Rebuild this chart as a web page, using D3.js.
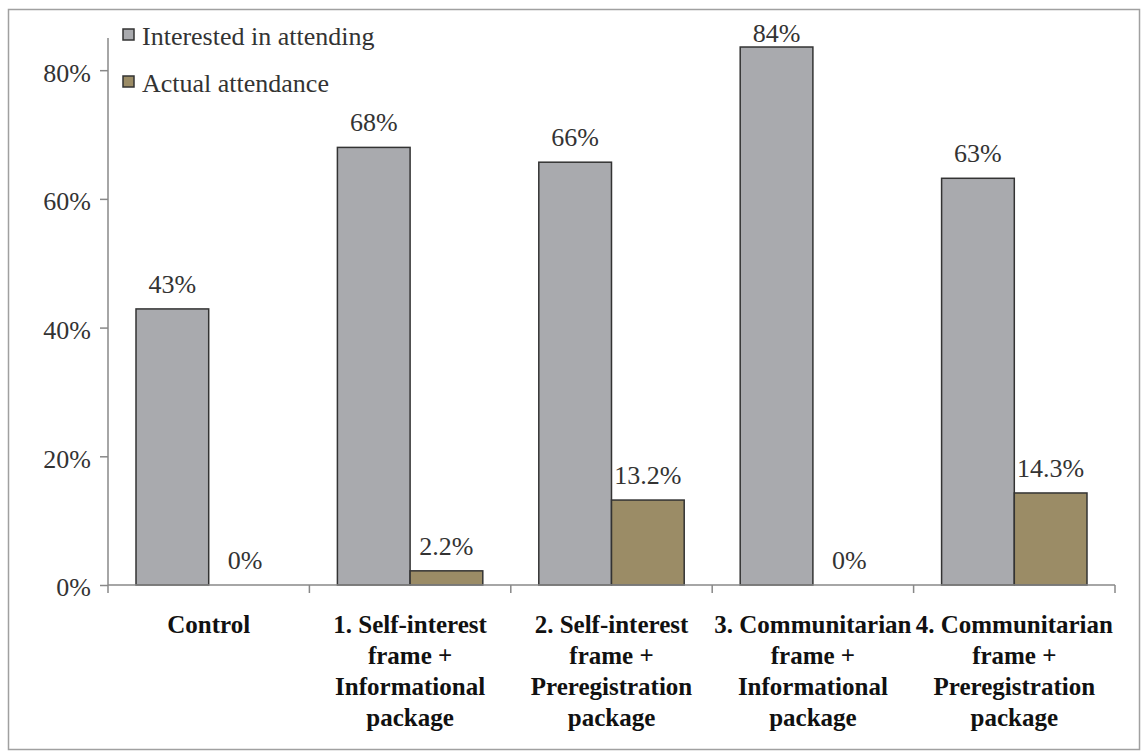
<!DOCTYPE html>
<html><head><meta charset="utf-8">
<script src="https://cdn.jsdelivr.net/npm/d3@7"></script>
</head><body style="margin:0">
<script>
const categories = [
  ["Control"],
  ["1. Self-interest", "frame +", "Informational", "package"],
  ["2. Self-interest", "frame +", "Preregistration", "package"],
  ["3. Communitarian", "frame +", "Informational", "package"],
  ["4. Communitarian", "frame +", "Preregistration", "package"]
];
const seriesNames = ["Interested in attending", "Actual attendance"];
const interested = [42.9, 68, 65.7, 83.6, 63.2];
const interestedLabels = ["43%", "68%", "66%", "84%", "63%"];
const actual = [0, 2.2, 13.2, 0, 14.3];
const actualLabels = ["0%", "2.2%", "13.2%", "0%", "14.3%"];
const yTicks = [0, 20, 40, 60, 80];
const colors = ["#a9aaae", "#9b8c66"];

const W = 1143, H = 753;
const FONT = '"Liberation Serif"';
const svg = d3.select("body").append("svg").attr("width", W).attr("height", H).style("display", "block");

svg.append("rect").attr("x", 8.5).attr("y", 9.5).attr("width", 1131).attr("height", 740)
  .attr("fill", "none").attr("stroke", "#a0a0a0").attr("stroke-width", 1.5);

const x0 = 108, x1 = 1115, yBase = 585, yTop = 38;
const y = d3.scaleLinear().domain([0, 85]).range([yBase, yTop]);
const idx = d3.range(categories.length);
const xb = d3.scaleBand().domain(idx).range([x0, x1]).padding(0);
const inner = d3.scaleBand().domain([0, 1]).range([28, xb.bandwidth() - 28]).padding(0);

// y axis
const yAxis = d3.axisLeft(y).tickValues(yTicks).tickFormat(d => d + "%").tickSize(8).tickPadding(9);
const ga = svg.append("g").attr("transform", `translate(${x0},0)`).call(yAxis);
ga.attr("font-family", null).attr("font-size", null);
ga.select(".domain").attr("stroke", "#888").attr("stroke-width", 1.5).attr("d", `M0,${yTop}V${yBase}`);
ga.selectAll(".tick line").attr("stroke", "#888").attr("stroke-width", 1.5);
ga.selectAll(".tick text").attr("dy", "0.42em").style("font-family", FONT).style("font-size", "26px").attr("fill", "#333");

// bars
const groups = svg.append("g").selectAll("g").data(idx).join("g")
  .attr("transform", i => `translate(${xb(i)},0)`);
const series = [interested, actual];
const labels = [interestedLabels, actualLabels];
[0, 1].forEach(s => {
  groups.filter(i => series[s][i] > 0).append("rect")
    .attr("x", inner(s)).attr("width", inner.bandwidth())
    .attr("y", i => y(series[s][i])).attr("height", i => yBase - y(series[s][i]))
    .attr("fill", colors[s]).attr("stroke", "#333").attr("stroke-width", 1.5);
  groups.append("text")
    .attr("x", inner(s) + inner.bandwidth() / 2)
    .attr("y", i => Math.max(y(series[s][i]) - 16, yTop + 4))
    .attr("text-anchor", "middle").style("font-family", FONT).style("font-size", "26px").attr("fill", "#333")
    .text(i => labels[s][i]);
});

// x axis
const xg = svg.append("g");
xg.append("line").attr("x1", x0).attr("x2", x1).attr("y1", yBase).attr("y2", yBase)
  .attr("stroke", "#888").attr("stroke-width", 1.5);
xg.selectAll("line.t").data(d3.range(categories.length + 1)).join("line").attr("class", "t")
  .attr("x1", i => x0 + i * xb.bandwidth()).attr("x2", i => x0 + i * xb.bandwidth())
  .attr("y1", yBase).attr("y2", yBase + 8).attr("stroke", "#888").attr("stroke-width", 1.5);
const xl = xg.selectAll("text").data(idx).join("text")
  .attr("x", i => xb(i) + xb.bandwidth() / 2).attr("y", 633)
  .attr("text-anchor", "middle").style("font-family", FONT).style("font-size", "25px")
  .style("font-weight", "bold").attr("fill", "#111");
xl.selectAll("tspan").data(i => categories[i]).join("tspan")
  .attr("x", function () { return this.parentNode.getAttribute("x"); })
  .attr("dy", (d, j) => j === 0 ? 0 : 31).text(d => d);

// legend
const lg = svg.append("g").selectAll("g").data([0, 1]).join("g")
  .attr("transform", s => `translate(123,${29 + s * 47})`);
lg.append("rect").attr("width", 11).attr("height", 11).attr("fill", s => colors[s])
  .attr("stroke", "#333").attr("stroke-width", 1.5);
lg.append("text").attr("x", 19).attr("y", 16).style("font-family", FONT).style("font-size", "26px")
  .attr("fill", "#333").text(s => seriesNames[s]);
</script>
</body></html>
